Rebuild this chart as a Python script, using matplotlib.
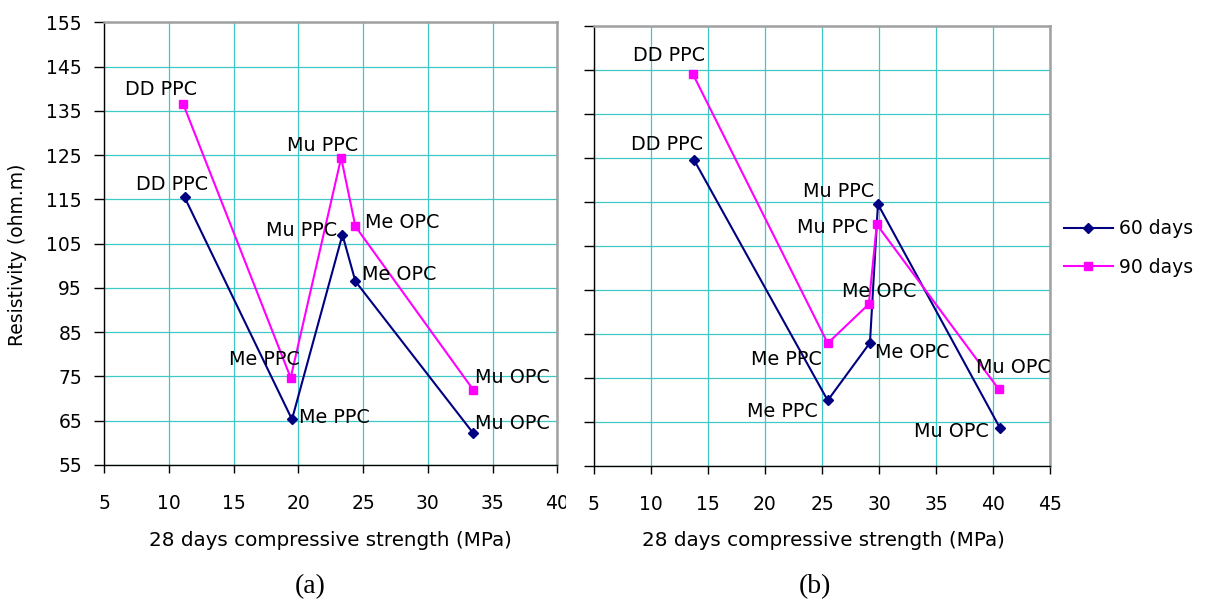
import matplotlib
matplotlib.use("Agg")
import matplotlib.pyplot as plt
from matplotlib.transforms import Bbox, TransformedBbox

plt.rcParams["font.family"] = ["DejaVu Sans"]

# ---------------- data ----------------
# (a) left panel, points in order of strength
MIX_A = ["DD PPC", "Me PPC", "Mu PPC", "Me OPC", "Mu OPC"]
STRENGTH_A_60 = [11.2, 19.5, 23.4, 24.4, 33.5]
RESIST_A_60 = [115.5, 65.3, 107.0, 96.5, 62.2]
STRENGTH_A_90 = [11.1, 19.4, 23.3, 24.4, 33.5]
RESIST_A_90 = [136.5, 74.7, 124.4, 108.9, 72.0]

# (b) right panel
MIX_B = ["DD PPC", "Me PPC", "Me OPC", "Mu PPC", "Mu OPC"]
STRENGTH_B_60 = [13.8, 25.5, 29.2, 29.9, 40.6]
RESIST_B_60 = [124.5, 69.9, 83.0, 114.5, 63.6]
STRENGTH_B_90 = [13.7, 25.5, 29.1, 29.8, 40.5]
RESIST_B_90 = [144.0, 82.9, 91.8, 109.9, 72.4]

SERIES = ["60 days", "90 days"]
X_TICKS_A = [5, 10, 15, 20, 25, 30, 35, 40]
X_TICKS_B = [5, 10, 15, 20, 25, 30, 35, 40, 45]
Y_TICKS = [55, 65, 75, 85, 95, 105, 115, 125, 135, 145, 155]

# ---------------- style ----------------
NAVY = "#000080"
PINK = "#FF00FF"
GRID = "#40C8C8"
FRAME_GREY = "#A0A0A0"
DPI = 100

# label offsets in pixels (text centre relative to marker)
OFF_A_60 = [(-13, 14), (42, 3), (-41, 6), (44, 8), (39, 11)]
OFF_A_90 = [(-22, 16), (-26, 20), (-19, 14), (47, 5), (39, 14)]
OFF_B_60 = [(-27, 17), (-45, -10), (42, -8), (-39, 14), (-49, -2)]
OFF_B_90 = [(-24, 20), (-41, -15), (10, 14), (-44, -2), (14, 23)]


def style_axes(ax, xticks, show_ylabels):
    ax.set_ylim(55, 155)
    ax.set_yticks(Y_TICKS)
    ax.set_xlim(xticks[0], xticks[-1])
    ax.set_xticks(xticks)
    ax.grid(True, color=GRID, linewidth=0.9)
    ax.set_axisbelow(True)
    for side in ["left", "bottom"]:
        ax.spines[side].set_color("black")
        ax.spines[side].set_linewidth(1.0)
    for side in ["top", "right"]:
        ax.spines[side].set_color(FRAME_GREY)
        ax.spines[side].set_linewidth(1.8)
    ax.tick_params(axis="y", direction="out", length=7, width=1.0, pad=9,
                   labelsize=13.5, labelleft=show_ylabels)
    ax.tick_params(axis="x", direction="out", length=6, width=1.0, pad=15,
                   labelsize=13.5)


def draw_panel(ax, names, x60, y60, off60, x90, y90, off90):
    ax.plot(x60, y60, color=NAVY, lw=1.5, marker="D", ms=5, label=SERIES[0])
    ax.plot(x90, y90, color=PINK, lw=1.5, marker="s", ms=5.5, label=SERIES[1])
    for xs, ys, offs in [(x60, y60, off60), (x90, y90, off90)]:
        for name, x, y, (dx, dy) in zip(names, xs, ys, offs):
            ax.annotate(name, xy=(x, y), xytext=(dx, dy - 7),
                        textcoords="offset pixels", ha="center", va="baseline",
                        fontsize=13.8, color="black")


fig = plt.figure(figsize=(12.06, 6.06), dpi=DPI)
ax1 = fig.add_axes([0.0865, 0.2327, 0.3756, 0.7305])
ax2 = fig.add_axes([0.4923, 0.2310, 0.3786, 0.7261])

style_axes(ax1, X_TICKS_A, True)
style_axes(ax2, X_TICKS_B, False)

draw_panel(ax1, MIX_A, STRENGTH_A_60, RESIST_A_60, OFF_A_60,
           STRENGTH_A_90, RESIST_A_90, OFF_A_90)
draw_panel(ax2, MIX_B, STRENGTH_B_60, RESIST_B_60, OFF_B_60,
           STRENGTH_B_90, RESIST_B_90, OFF_B_90)

# the last tick label of (a) is cut off by panel (b) in the original
clip = TransformedBbox(Bbox([[0, 0], [566 / 1206, 1]]), fig.transFigure)
last = ax1.xaxis.get_major_ticks()[-1].label1
last.set_clip_box(clip)
last.set_clip_on(True)

ax2.legend(loc="center left", bbox_to_anchor=(0.8823, 0.5904),
           bbox_transform=fig.transFigure, frameon=False, fontsize=13.5,
           handlelength=2.6, handletextpad=0.35, labelspacing=1.05,
           borderpad=0, borderaxespad=0)

fig.text(330.5 / 1206, 1 - 540 / 606, "28 days compressive strength (MPa)",
         ha="center", va="center", fontsize=14.3)
fig.text(823 / 1206, 1 - 540 / 606, "28 days compressive strength (MPa)",
         ha="center", va="center", fontsize=14.3)
fig.text(18 / 1206, 1 - 255 / 606, "Resistivity (ohm.m)", rotation=90,
         ha="center", va="center", fontsize=13.5)
fig.text(310 / 1206, 1 - 587 / 606, "(a)", ha="center", va="center",
         fontsize=20, family="Liberation Serif")
fig.text(815 / 1206, 1 - 587 / 606, "(b)", ha="center", va="center",
         fontsize=20, family="Liberation Serif")

fig.savefig("out.png", dpi=DPI)
